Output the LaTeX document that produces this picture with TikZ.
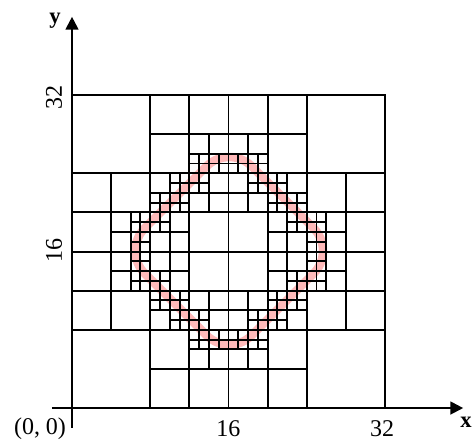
\documentclass[tikz,border=0pt]{standalone}
\usepackage{fontspec}
\setmainfont{Liberation Serif}
\usetikzlibrary{arrows.meta}
\tikzset{
  gridline/.style={line width=1.45pt,black,line cap=rect},
  axisline/.style={line width=1.5pt,black,-{Triangle[length=9.6pt,width=9.6pt]}},
  contour/.style={line width=6.4pt,color=pinkc,rounded corners=24pt,line join=round},
  tick/.style={font=\fontsize{18pt}{20pt}\selectfont,inner sep=0pt},
  axisname/.style={font=\fontsize{17pt}{19pt}\selectfont\bfseries,inner sep=0pt}
}
\definecolor{pinkc}{RGB}{255,185,185}
\begin{document}
\begin{tikzpicture}[x=7.335pt,y=7.335pt]
\useasboundingbox (-7.362,-3.374) rectangle (40.9,41.72);
% interface contour
\draw[contour] (16.07,27.02) -- (27.02,16.07) -- (16.07,5.12) -- (5.12,16.07) -- cycle;
% quadtree mesh, one quadrant mirrored four times
\foreach \sx/\sy in {1/1,-1/1,1/-1,-1/-1}{
  \begin{scope}[shift={(16,16)},xscale=\sx,yscale=\sy,shift={(-16,-16)}]
    \draw[gridline] (0,24) rectangle +(8,8);
    \foreach \a/\b in {8/28,12/28,8/24,0/20,4/20,0/16,12/16}
      \draw[gridline] (\a,\b) rectangle +(4,4);
    \foreach \a/\b in {12/26,14/26,4/18,4/16,8/22,14/22,12/20,14/20,10/18,8/16,10/16}
      \draw[gridline] (\a,\b) rectangle +(2,2);
    \foreach \a/\b in {12/24,14/24,6/18,6/16,10/22,8/20,10/20,12/22,8/18}{
      \draw[gridline] (\a,\b) rectangle +(2,2);
      \draw[gridline] (\a+1,\b) -- +(0,2);
      \draw[gridline] (\a,\b+1) -- +(2,0);
    }
  \end{scope}
}
% axes
\coordinate (xstart) at (-2.05,0);
\coordinate (xend) at (40.0,0);
\coordinate (ystart) at (0,-2.0);
\coordinate (yend) at (0,40.0);
\draw[axisline] (xstart) -- (xend);
\draw[axisline] (ystart) -- (yend);
% labels
\node[axisname] (xname) at (40.3,-1.43) {x};
\node[axisname] (yname) at (-1.74,39.6) {y};
\node[tick] (origin) at (-3.27,-2.15) {(0, 0)};
\node[tick] (x16) at (16,-2.1) {16};
\node[tick] (x32) at (31.7,-2.1) {32};
\node[tick,rotate=90] (y16) at (-1.84,16.15) {16};
\node[tick,rotate=90] (y32) at (-1.84,31.75) {32};
\end{tikzpicture}
\end{document}
